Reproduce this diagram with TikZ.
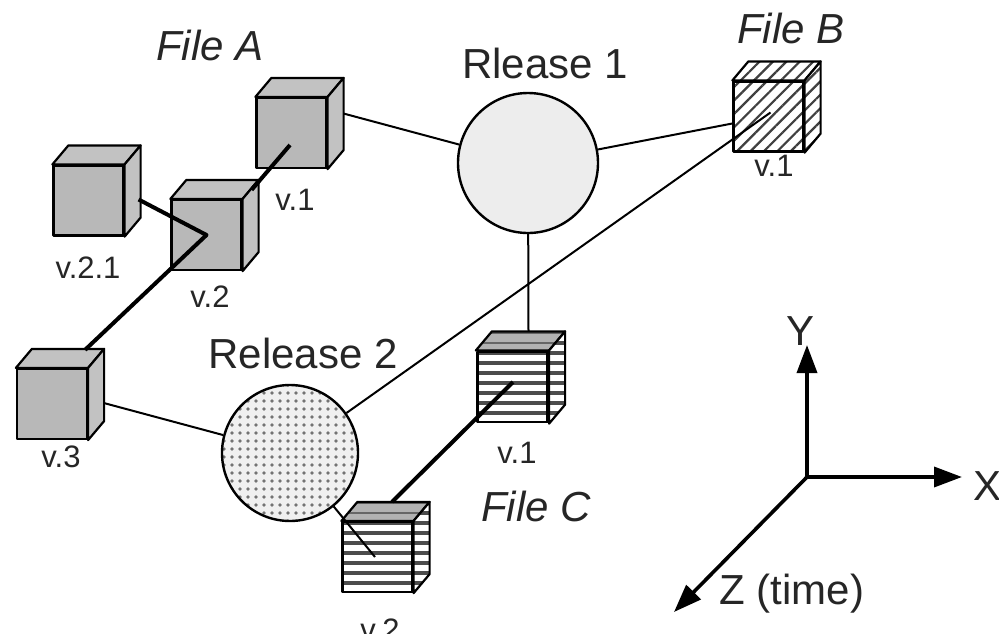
\documentclass[tikz,border=0pt]{standalone}
\usepackage{fontspec}
\setmainfont{Liberation Sans}
\usetikzlibrary{positioning, calc, arrows.meta, patterns.meta, backgrounds}

% top and right faces of a version cube (front face is the node itself)
\newcommand{\cubefaces}[3]{%
  \filldraw[#2, line width=2.2pt] (#1.north west) -- ++(16,-19) -- ($(#1.north east)+(16,-19)$) -- (#1.north east) -- cycle;
  \filldraw[#3, line width=2.2pt] (#1.north east) -- ++(16,-19) -- ($(#1.south east)+(16,-19)$) -- (#1.south east) -- cycle;
}

\tikzset{
  cube/.style={rectangle, draw, line width=2.2pt, minimum width=70pt, minimum height=70pt, inner sep=0pt},
  grayfill/.style={fill=black!28},
  graytop/.style={fill=black!24},
  diaglines/.style={preaction={fill=white}, pattern={Lines[angle=45, distance=9.5pt, line width=2.2pt]}, pattern color=black!75},
  horzlines/.style={preaction={fill=white}, pattern={Lines[angle=0, distance=10pt, line width=3.2pt]}, pattern color=black!70},
  horztop/.style={preaction={fill=black!30}, pattern={Lines[angle=0, distance=10pt, line width=2.6pt]}, pattern color=black!60}
}

\begin{document}
\begin{tikzpicture}[x=1pt, y=-1pt, line join=round,
    release/.style={circle, draw, line width=2.4pt, inner sep=0pt},
    dotsfill/.style={preaction={fill=black!6}, pattern={Dots[distance=8pt, radius=1.9pt]}, pattern color=black!55},
    bigtext/.style={font=\fontsize{42}{48}\selectfont, text=black!85, inner sep=0pt},
    filetext/.style={bigtext, font=\fontsize{42}{48}\selectfont\itshape},
    vlabel/.style={font=\fontsize{31}{36}\selectfont, text=black!85, inner sep=0pt},
    link/.style={line width=2pt},
    thicklink/.style={line width=4pt},
    axis/.style={line width=3.6pt, -{Triangle[length=28pt, width=20pt]}}
  ]
  \useasboundingbox (0,0) rectangle (999,633);

  % --- Releases ---
  \node[release, fill=black!7, minimum size=140pt] (rel1) at (528,163) {};
  \node[release, dotsfill, minimum size=136pt] (rel2) at (290,453) {};
  \node[bigtext] (rel1txt) at (545,63) {Rlease 1};
  \node[bigtext] (rel2txt) at (303,353) {Release 2};

  % --- File A ---
  \node[cube, grayfill] (fa1) at (291.5,133) {};
  \cubefaces{fa1}{graytop}{graytop}
  \node[cube, grayfill] (fa21) at (88.5,200.5) {};
  \cubefaces{fa21}{graytop}{graytop}
  \node[cube, grayfill] (fa2) at (206.5,235) {};
  \cubefaces{fa2}{graytop}{graytop}
  \node[cube, grayfill] (fa3) at (52,404) {};
  \cubefaces{fa3}{graytop}{graytop}
  \node[filetext] (fatxt) at (210,45) {File A};
  \node[vlabel] (fa1txt) at (295,200) {v.1};
  \node[vlabel] (fa21txt) at (88,268) {v.2.1};
  \node[vlabel] (fa2txt) at (210,297) {v.2};
  \node[vlabel] (fa3txt) at (61,457) {v.3};

  % --- File B ---
  \node[vlabel] (fb1txt) at (774,166) {v.1};
  \node[cube, diaglines] (fb1) at (768.5,116.5) {};
  \cubefaces{fb1}{diaglines}{diaglines}
  \node[filetext] (fbtxt) at (791,28) {File B};

  % --- File C ---
  \node[cube, horzlines] (fc1) at (512.5,387) {};
  \cubefaces{fc1}{horztop}{horzlines}
  \node[cube, horzlines] (fc2) at (377.5,557) {};
  \cubefaces{fc2}{horztop}{horzlines}
  \node[vlabel] (fc1txt) at (517,453) {v.1};
  \node[filetext] (fctxt) at (536,506) {File C};
  \node[vlabel] (fc2txt) at (380,630) {v.2};

  % --- Anchor points inside the cubes ---
  \coordinate (fa1-side) at ($(fa1.east)+(14,-20)$);
  \coordinate (fa1-in) at ($(fa1.center)+(-1.5,12)$);
  \coordinate (fa2-top) at ($(fa2.north east)+(9,-9)$);
  \coordinate (fa21-side) at ($(fa21.east)+(14,-1)$);
  \coordinate (fa3-top) at ($(fa3.north)+(33,-18)$);
  \coordinate (fa3-side) at ($(fa3.east)+(12,-2)$);
  \coordinate (fb1-in) at ($(fb1.center)+(2,-4)$);
  \coordinate (fc1-top) at ($(fc1.north)+(16,-19)$);
  \coordinate (fc1-in) at ($(fc1.center)+(0.5,-5)$);
  \coordinate (fc2-top) at ($(fc2.north)+(14.5,-19)$);
  \coordinate (fc2-in) at ($(fc2.center)+(-2.5,0)$);

  % --- Links behind the shapes (white page first) ---
  \begin{scope}[on background layer]
    \fill[white] (0,0) rectangle (999,633);
    \draw[link] (fa1-side) -- (rel1);
    \draw[link] (rel1) -- (fb1);
    \draw[link] (rel1) -- (fc1-top);
    \draw[link] (fa3-side) -- (rel2);
  \end{scope}

  % --- Links over the shapes ---
  \draw[link] (rel2) -- (fb1-in);
  \draw[link] (rel2) -- (fc2-in);
  \draw[thicklink] (fa1-in) -- (fa2-top);
  \draw[thicklink] (fa21-side) -- (fa2.center) -- (fa3-top);
  \draw[thicklink] (fc1-in) -- (fc2-top);

  % --- Axes ---
  \coordinate (origin) at (807,477);
  \coordinate (xend) at (962,477);
  \coordinate (yend) at (807,345);
  \coordinate (zend) at (674,612);
  \draw[axis] (origin) -- (xend);
  \draw[axis] (origin) -- (yend);
  \draw[axis] (origin) -- (zend);
  \node[bigtext] (xtxt) at (987,486) {X};
  \node[bigtext] (ytxt) at (800,331) {Y};
  \node[bigtext] (ztxt) at (792,594) {Z (time)};
\end{tikzpicture}
\end{document}
